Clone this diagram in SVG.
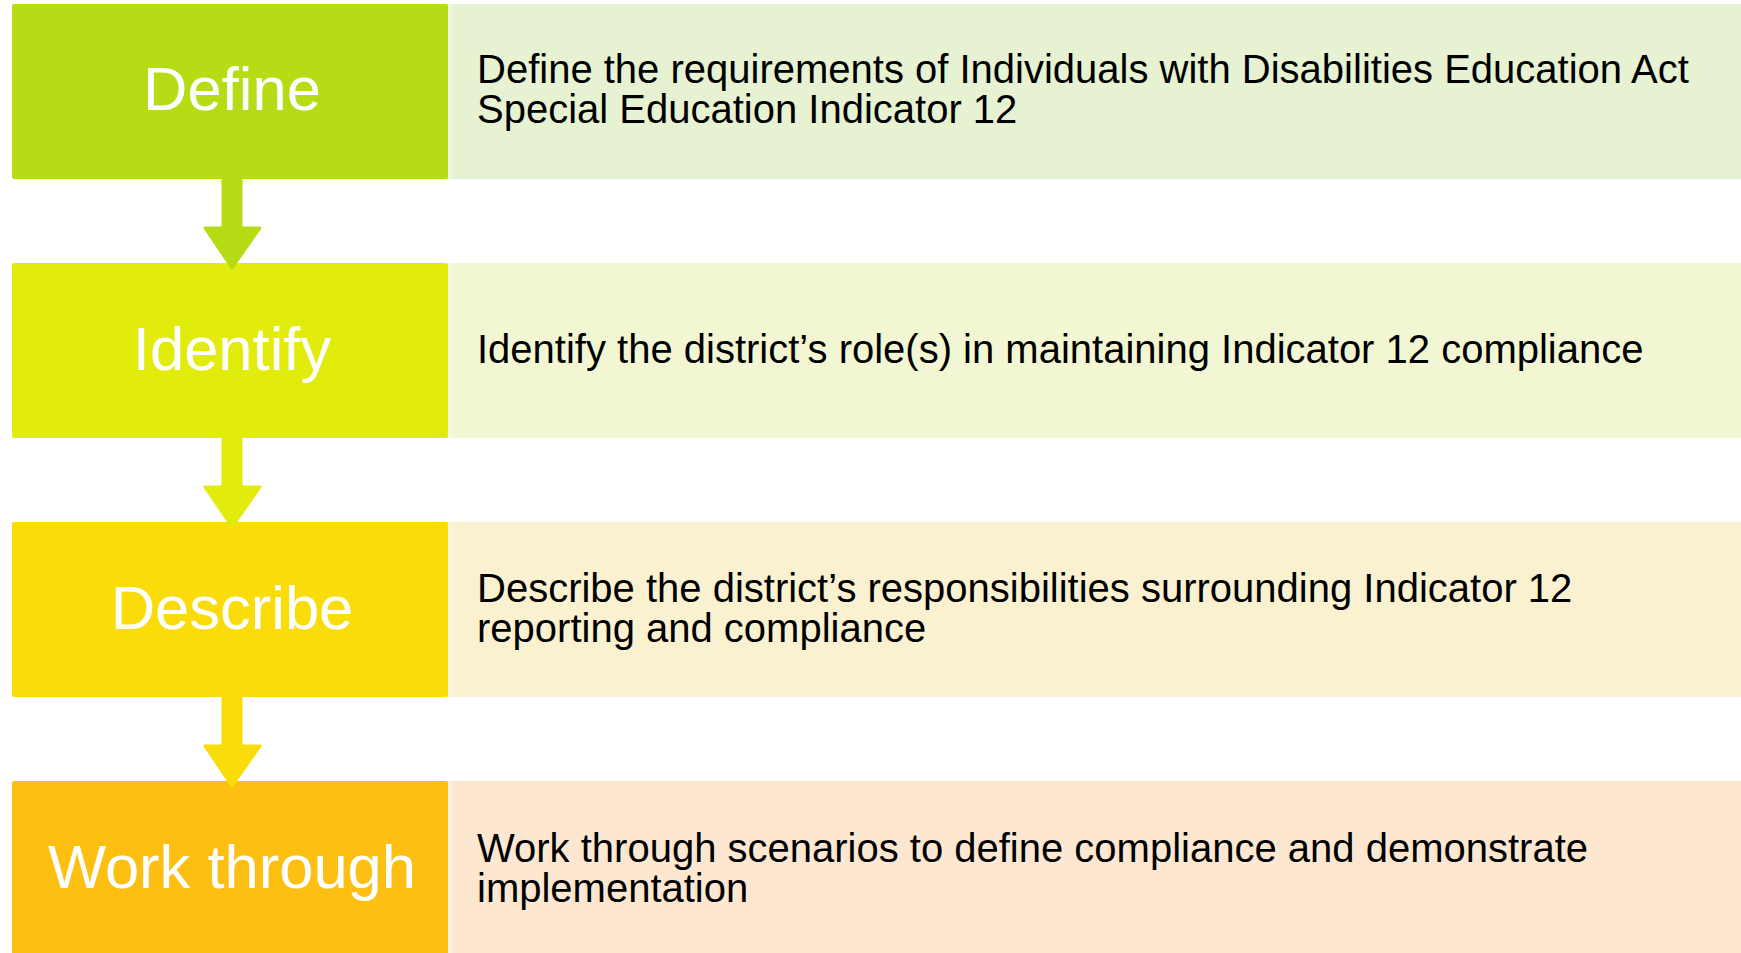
<svg xmlns="http://www.w3.org/2000/svg" width="1741" height="953" viewBox="0 0 1741 953">
<style>
.lbl{font-family:"Liberation Sans",Arial,sans-serif;font-size:61.5px;fill:#ffffff;text-anchor:middle}
.desc{font-family:"Liberation Sans",Arial,sans-serif;font-size:40px;fill:#000000}
.edge{fill:#ffffff;fill-opacity:0.3}
</style>
<rect width="1741" height="953" fill="#ffffff"/>
<g id="define">
<rect x="447" y="4" width="1300" height="175" fill="#E6F2D2"/>
<rect class="edge" x="447" y="4" width="5" height="175"/>
<rect x="12" y="4" width="436" height="175" rx="2" fill="#B5DC14"/>
<text class="lbl" x="232" y="110">Define</text>
<text class="desc" x="477" y="82.5">Define the requirements of Individuals with Disabilities Education Act</text>
<text class="desc" x="477" y="123">Special Education Indicator 12</text>
</g>
<g id="identify">
<rect x="447" y="263" width="1300" height="175" fill="#F3F6D2"/>
<rect class="edge" x="447" y="263" width="5" height="175"/>
<rect x="12" y="263" width="436" height="175" rx="2" fill="#E2EC0C"/>
<text class="lbl" x="232" y="370">Identify</text>
<text class="desc" x="477" y="363">Identify the district’s role(s) in maintaining Indicator 12 compliance</text>
</g>
<g id="describe">
<rect x="447" y="522" width="1300" height="175" fill="#FAF1D1"/>
<rect class="edge" x="447" y="522" width="5" height="175"/>
<rect x="12" y="522" width="436" height="175" rx="2" fill="#F9DC0A"/>
<text class="lbl" x="232" y="629">Describe</text>
<text class="desc" x="477" y="602">Describe the district’s responsibilities surrounding Indicator 12</text>
<text class="desc" x="477" y="642">reporting and compliance</text>
</g>
<g id="workthrough">
<rect x="447" y="781" width="1300" height="180" fill="#FDE7D0"/>
<rect class="edge" x="447" y="781" width="5" height="180"/>
<rect x="12" y="781" width="436" height="180" rx="2" fill="#FCBF12"/>
<text class="lbl" x="232" y="888">Work through</text>
<text class="desc" x="477" y="862">Work through scenarios to define compliance and demonstrate</text>
<text class="desc" x="477" y="902">implementation</text>
</g>
<g id="connectors" stroke-linejoin="round" stroke-width="3">
<path d="M223,179 H241 V228 H260 L232,268 L205,228 H223 Z" fill="#B5DC14" stroke="#B5DC14"/>
<path d="M223,438 H241 V487 H260 L232,527 L205,487 H223 Z" fill="#E2EC0C" stroke="#E2EC0C"/>
<path d="M223,697 H241 V746 H260 L232,786 L205,746 H223 Z" fill="#F9DC0A" stroke="#F9DC0A"/>
</g>
</svg>
